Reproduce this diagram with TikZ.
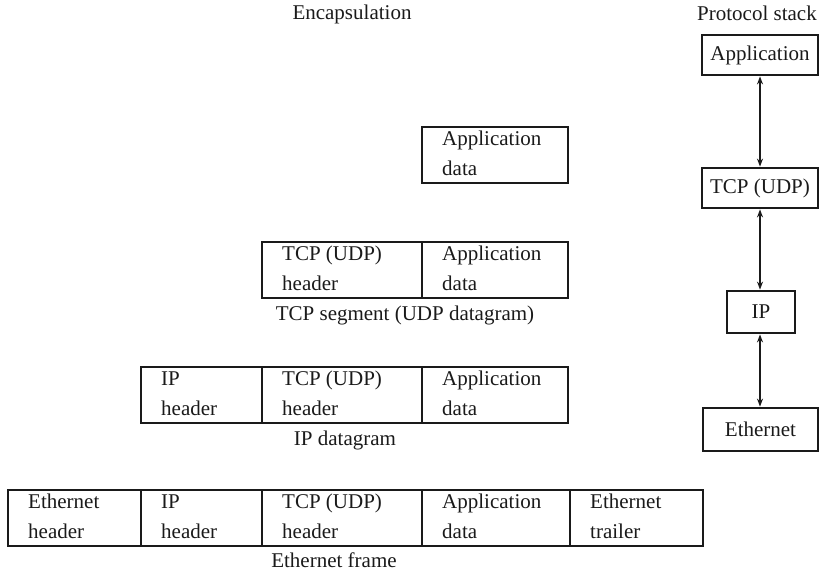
\documentclass[tikz,border=0pt]{standalone}
\usepackage{fontspec}
\setmainfont{Liberation Serif}
\usetikzlibrary{arrows.meta}

% one cell of a packet: name, left x, right x, top y, first line, second line
\newcommand\pktcell[6]{%
  \node[cell, minimum width={(#3)-(#2)}] (#1) at (#2,#4) {};
  \node[celltxt] (#1-l1) at ([shift={(21,19)}]#1.north west) {#5};
  \node[celltxt] (#1-l2) at ([shift={(21,49)}]#1.north west) {#6};
}

\definecolor{ink}{HTML}{1A1A1A}

\begin{document}
\begin{tikzpicture}[x=1pt,y=-1pt,
  font=\fontsize{21}{25}\selectfont, color=ink,
  cell/.style={draw, line width=2.4pt, anchor=north west, inner sep=0pt,
    minimum height=56},
  celltxt/.style={anchor=base west, inner sep=0pt},
  caption/.style={anchor=base, inner sep=0pt},
  layer/.style={draw, line width=2.8pt, inner sep=0pt},
  link/.style={line width=1.6pt,
    {Stealth[length=8pt,width=6pt]}-{Stealth[length=8pt,width=6pt]}}]
\useasboundingbox (0,0) rectangle (820,574);

% titles
\node[caption] (enc) at (352,19) {Encapsulation};
\node[caption] (ps) at (757,20) {Protocol stack};

% application data
\pktcell{r1a}{421}{567}{126}{Application}{data}

% TCP segment
\pktcell{r2t}{261}{421}{241}{TCP (UDP)}{header}
\pktcell{r2a}{421}{567}{241}{Application}{data}
\node[caption] (seg) at (405,320) {TCP segment (UDP datagram)};

% IP datagram
\pktcell{r3i}{140}{261}{366}{IP}{header}
\pktcell{r3t}{261}{421}{366}{TCP (UDP)}{header}
\pktcell{r3a}{421}{567}{366}{Application}{data}
\node[caption] (dgram) at (345,445) {IP datagram};

% Ethernet frame
\pktcell{r4e}{7}{140}{489}{Ethernet}{header}
\pktcell{r4i}{140}{261}{489}{IP}{header}
\pktcell{r4t}{261}{421}{489}{TCP (UDP)}{header}
\pktcell{r4a}{421}{569}{489}{Application}{data}
\pktcell{r4r}{569}{702}{489}{Ethernet}{trailer}
\node[caption] (frame) at (334,567) {Ethernet frame};

% protocol stack
\node[layer, minimum width=116, minimum height=40] (app) at (760,55) {Application};
\node[layer, minimum width=116, minimum height=40] (tcp) at (760,188) {TCP (UDP)};
\node[layer, minimum width=68, minimum height=42] (ip) at (761,312) {IP};
\node[layer, minimum width=115, minimum height=43] (eth) at (760.5,429.5) {Ethernet};

\draw[link] (app.south) -- (tcp.north);
\draw[link] (tcp.south) -- (tcp.south |- ip.north);
\draw[link] (tcp.south |- ip.south) -- (tcp.south |- eth.north);
\end{tikzpicture}
\end{document}
